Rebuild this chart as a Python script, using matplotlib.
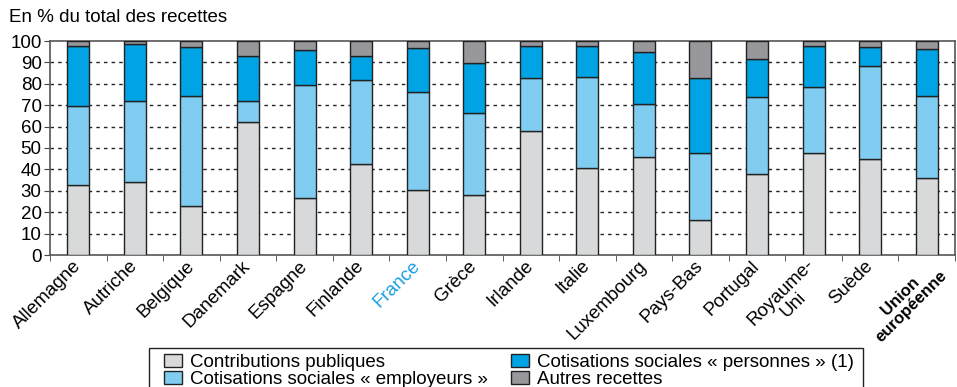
import matplotlib.pyplot as plt
from matplotlib.patches import Rectangle
from matplotlib.transforms import ScaledTranslation
import numpy as np

plt.rcParams['font.family'] = ['Liberation Sans', 'DejaVu Sans']

pays = ['Allemagne', 'Autriche', 'Belgique', 'Danemark', 'Espagne', 'Finlande',
        'France', 'Grèce', 'Irlande', 'Italie', 'Luxembourg', 'Pays-Bas',
        'Portugal', 'Royaume-\nUni', 'Suède', 'Union\neuropéenne']

# parts en % du total des recettes
contributions = [32.7, 34.1, 22.9, 62.3, 26.6, 42.7, 30.2, 27.9, 57.9, 40.8,
                 45.9, 16.4, 37.7, 47.8, 44.9, 35.8]
employeurs = [36.9, 37.7, 51.4, 9.5, 52.8, 39.1, 46.1, 38.3, 25.0, 42.5,
              24.5, 31.3, 36.1, 30.5, 43.3, 38.5]
personnes = [28.1, 26.8, 22.9, 21.0, 16.2, 11.2, 20.6, 23.5, 14.6, 14.5,
             24.3, 35.2, 17.9, 19.5, 8.8, 21.8]
autres = [2.3, 1.4, 2.8, 7.2, 4.4, 7.0, 3.1, 10.3, 2.5, 2.2,
          5.3, 17.1, 8.3, 2.2, 3.0, 3.9]

series = [
    ('Contributions publiques', contributions, '#d7d9da'),
    ('Cotisations sociales « employeurs »', employeurs, '#80cdf1'),
    ('Cotisations sociales « personnes » (1)', personnes, '#00a4e4'),
    ('Autres recettes', autres, '#98979c'),
]

FS = 13.5

fig = plt.figure(figsize=(9.57, 3.87), dpi=100)
ax = fig.add_axes([50 / 957, 1 - 255 / 387, 905 / 957, 214 / 387])

x = np.arange(len(pays))
bas = np.zeros(len(pays))
for nom, vals, couleur in series:
    vals = np.array(vals)
    ax.bar(x, vals, bottom=bas, width=0.39, color=couleur, edgecolor='#222222',
           linewidth=1.0, label=nom, zorder=3)
    bas += vals

ax.set_xlim(-0.5, len(pays) - 0.5)
ax.set_ylim(0, 100)
ax.set_yticks(np.arange(0, 101, 10))
ax.tick_params(axis='y', labelsize=FS, direction='out', length=4, color='#444444', pad=2)

# graduations entre les pays, libellés sous les barres
ax.set_xticks(x)
ax.set_xticks(np.arange(-0.5, len(pays), 1), minor=True)
ax.tick_params(axis='x', which='major', length=0, pad=6)
ax.tick_params(axis='x', which='minor', direction='out', length=4, color='#444444')
ax.set_xticklabels(pays, rotation=45, ha='right', va='center', rotation_mode='anchor',
                   fontsize=FS, multialignment='center', linespacing=1.0)
labels = ax.get_xticklabels()
labels[6].set_color('#1a9fe0')
labels[-1].set_fontweight('bold')
labels[-1].set_fontsize(12)
# libellés sur deux lignes : la première ligne reste au niveau de la barre
decalage = ScaledTranslation(4.5 / 100, -4.5 / 100, fig.dpi_scale_trans)
for lab in labels:
    if '\n' in lab.get_text():
        lab.set_transform(lab.get_transform() + decalage)
labels[-1].set_transform(labels[-1].get_transform()
                         + ScaledTranslation(8 / 100, 0, fig.dpi_scale_trans))

for y in range(10, 100, 10):
    ax.axhline(y, color='#222222', linewidth=1.0, linestyle=(0, (2.5, 3)), zorder=1)

for s in ax.spines.values():
    s.set_color('#555555')
    s.set_linewidth(1.2)

fig.text(9 / 957, 1 - 18 / 387, 'En % du total des recettes', fontsize=FS, va='center')

# cadre de la légende, qui déborde en bas de l'image
fig.patches.append(Rectangle((149 / 957, -0.05), 714 / 957, 0.05 + 1 - 348 / 387,
                             transform=fig.transFigure, fill=False,
                             edgecolor='#222222', linewidth=1.0))
fig.legend(loc='upper left', bbox_to_anchor=(164 / 957, 1 - 354 / 387), ncol=2,
           fontsize=FS, frameon=False, borderpad=0, labelspacing=0.0,
           handlelength=0.96, handleheight=0.7, handletextpad=0.43,
           columnspacing=1.2, borderaxespad=0)

fig.savefig('out.png', dpi=100)
